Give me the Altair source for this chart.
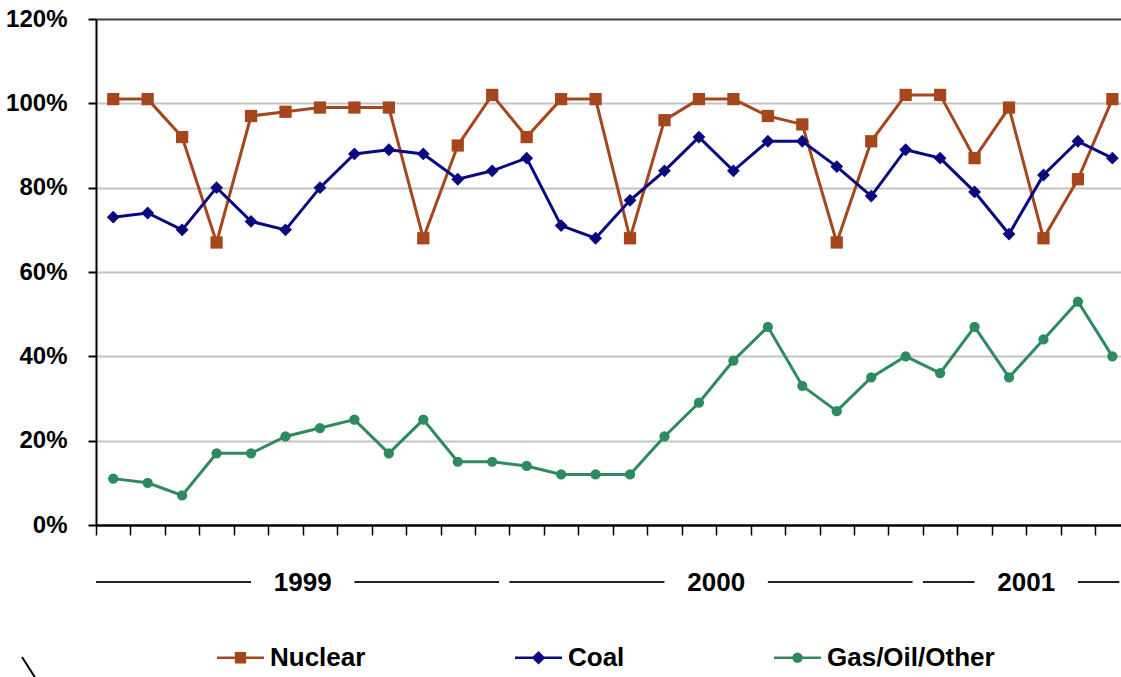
import math
import pandas as pd
import altair as alt

# --- data -------------------------------------------------------------------
series_names = ["Nuclear", "Coal", "Gas/Oil/Other"]
years = ["1999", "2000", "2001"]
months_in_year = [12, 12, 6]

# monthly capacity factor, percent (Jan 1999 - Jun 2001)
nuclear = [101, 101, 92, 67, 97, 98, 99, 99, 99, 68, 90, 102, 92, 101, 101,
           68, 96, 101, 101, 97, 95, 67, 91, 102, 102, 87, 99, 68, 82, 101]
coal = [73, 74, 70, 80, 72, 70, 80, 88, 89, 88, 82, 84, 87, 71, 68,
        77, 84, 92, 84, 91, 91, 85, 78, 89, 87, 79, 69, 83, 91, 87]
gas = [11, 10, 7, 17, 17, 21, 23, 25, 17, 25, 15, 15, 14, 12, 12,
       12, 21, 29, 39, 47, 33, 27, 35, 40, 36, 47, 35, 44, 53, 40]

y_ticks = [0, 20, 40, 60, 80, 100, 120]

# --- styling ----------------------------------------------------------------
FONT = "Liberation Sans"
colors = ["#A5461C", "#0A0A80", "#2E8A60"]
marker_shapes = ["square", "diamond", "circle"]
marker_sizes = [150, 165, 105]
n_months = sum(months_in_year)
x_max = n_months - 0.25


def legend_key(marker):
    """Legend glyph: a short line with the series marker in its middle."""
    bar = "M-1,-0.055H1V0.055H-1Z"
    if marker == "square":
        m = "M-0.24,-0.24H0.24V0.24H-0.24Z"
    elif marker == "diamond":
        m = "M0,-0.29L0.29,0L0,0.29L-0.29,0Z"
    else:
        r = 0.22
        pts = [(r * math.cos(2 * math.pi * k / 16), r * math.sin(2 * math.pi * k / 16))
               for k in range(16)]
        m = "M" + "L".join(f"{x:.3f},{y:.3f}" for x, y in pts) + "Z"
    return bar + m


rows = []
for name, vals in zip(series_names, [nuclear, coal, gas]):
    for i, v in enumerate(vals):
        rows.append({"series": name, "month": i, "value": v})
df = pd.DataFrame(rows)

# year groups below the axis
grp_rows, seg_rows = [], []
start = 0
for yr, n in zip(years, months_in_year):
    center = start + n / 2
    grp_rows.append({"year": yr, "center": center})
    seg_rows.append({"a": start, "b": center - 1.5})
    seg_rows.append({"a": center + 1.5, "b": start + n - 0.3})
    start += n
grp_df = pd.DataFrame(grp_rows)
seg_df = pd.DataFrame(seg_rows)

x_scale = alt.Scale(domain=[0, x_max], nice=False, zero=False)
y_scale = alt.Scale(domain=[0, 120], nice=False)
color_scale = alt.Scale(domain=series_names, range=colors)

x_axis = alt.Axis(values=list(range(n_months)), tickCount=60, labels=False, title=None,
                  grid=False, domainColor="black", domainWidth=2, tickColor="black",
                  tickWidth=1.5, tickSize=10)
y_axis = alt.Axis(values=y_ticks, labelExpr="datum.value + '%'", title=None, grid=True,
                  gridColor={"condition": [
                      {"test": "datum.value === 120", "value": "#404040"},
                      {"test": "datum.value === 0", "value": "#000000"}],
                      "value": "#c4c4c4"},
                  gridWidth=2, domainColor="black", domainWidth=2,
                  tickColor="black", tickWidth=2, tickSize=8,
                  labelFont=FONT, labelFontSize=24, labelFontWeight="bold",
                  labelColor="black", labelPadding=21)

base = alt.Chart(df).transform_calculate(pos="datum.month + 0.5")

layers = []
for name, col, shape, size in zip(series_names, colors, marker_shapes, marker_sizes):
    sub = base.transform_filter(alt.datum.series == name)
    enc = dict(
        x=alt.X("pos:Q", scale=x_scale, axis=x_axis),
        y=alt.Y("value:Q", scale=y_scale, axis=y_axis),
    )
    layers.append(sub.mark_line(strokeWidth=3, color=col).encode(**enc))
    layers.append(sub.mark_point(filled=True, opacity=1, shape=shape, size=size,
                                 color=col, strokeWidth=0).encode(**enc))

legend_kw = dict(orient="none", legendX=121, legendY=615, direction="horizontal",
                 title=None, padding=0, labelFont=FONT, labelFontSize=26,
                 labelFontWeight="bold", labelColor="black", labelOffset=6,
                 labelLimit=400, columnPadding=149, symbolSize=2209,
                 symbolStrokeWidth=0, symbolOpacity=1)

# legend only: no rows are drawn, the entries come from the explicit scale domains
key = alt.Chart(df).transform_filter("false").mark_point(
    filled=True, opacity=1, size=2209).encode(
    color=alt.Color("series:N", scale=color_scale, legend=alt.Legend(**legend_kw)),
    shape=alt.Shape("series:N",
                    scale=alt.Scale(domain=series_names,
                                    range=[legend_key(s) for s in marker_shapes]),
                    legend=alt.Legend(**legend_kw)),
)

year_text = alt.Chart(grp_df).mark_text(
    font=FONT, fontSize=26, fontWeight="bold", color="black",
    align="center", baseline="middle").encode(
    x=alt.X("center:Q", scale=x_scale, axis=x_axis), y=alt.value(564), text="year:N")

year_lines = alt.Chart(seg_df).mark_rule(color="#222222", strokeWidth=2).encode(
    x=alt.X("a:Q", scale=x_scale, axis=x_axis), x2="b:Q", y=alt.value(563))

corner_mark = alt.Chart(grp_df.head(1)).mark_rule(color="black", strokeWidth=2).encode(
    x=alt.value(-74), x2=alt.value(-60), y=alt.value(638), y2=alt.value(660))

chart = alt.layer(*layers, key, year_lines, year_text, corner_mark).properties(
    width=1025, height=506,
    autosize=alt.AutoSizeParams(type="none"),
    padding={"left": 96, "top": 19, "right": 0, "bottom": 152},
).configure_view(stroke=None)

chart.save("out.html", embed_options={"renderer": "svg", "actions": False})
